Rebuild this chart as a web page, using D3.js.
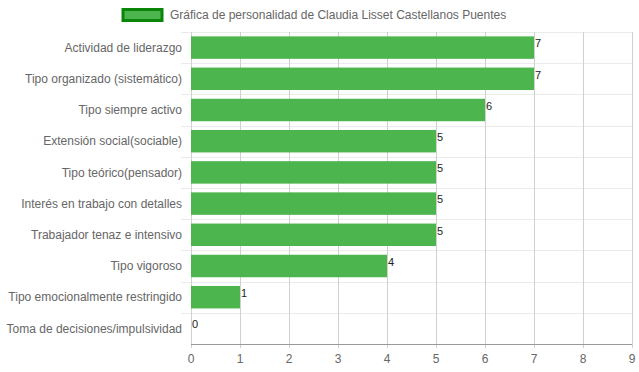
<!DOCTYPE html>
<html lang="es">
<head>
<meta charset="UTF-8">
<style>
  body { margin: 0; background: #fff; }
  svg text { font-family: "Liberation Sans", Arial, sans-serif; }
</style>
</head>
<body>
<svg width="639" height="372"></svg>
<script src="https://d3js.org/d3.v7.min.js"></script>
<script>

// data
var categories = [
  "Actividad de liderazgo",
  "Tipo organizado (sistemático)",
  "Tipo siempre activo",
  "Extensión social(sociable)",
  "Tipo teórico(pensador)",
  "Interés en trabajo con detalles",
  "Trabajador tenaz e intensivo",
  "Tipo vigoroso",
  "Tipo emocionalmente restringido",
  "Toma de decisiones/impulsividad"
];
var values = [7, 7, 6, 5, 5, 5, 5, 4, 1, 0];
var xTicks = [0, 1, 2, 3, 4, 5, 6, 7, 8, 9];
var seriesName = "Gráfica de personalidad de Claudia Lisset Castellanos Puentes";

var margin = {top: 32, right: 7, bottom: 28, left: 191},
    width = 639 - margin.left - margin.right,
    height = 372 - margin.top - margin.bottom;

var svg = d3.select("svg");
var g = svg.append("g")
    .attr("transform", "translate(" + margin.left + "," + margin.top + ")");

var x = d3.scaleLinear().domain([0, 9]).range([0, width]);
var y = d3.scaleBand().domain(categories).range([0, height]);

// horizontal grid lines (between categories)
g.selectAll(".hgrid")
    .data(categories)
  .enter().append("line")
    .attr("x1", -10).attr("x2", width)
    .attr("y1", function(d) { return Math.round(y(d)) + 0.5; })
    .attr("y2", function(d) { return Math.round(y(d)) + 0.5; })
    .attr("stroke", "#ebebeb");

// vertical grid lines
g.selectAll(".vgrid")
    .data(xTicks)
  .enter().append("line")
    .attr("x1", function(d) { return Math.round(x(d)) + 0.5; })
    .attr("x2", function(d) { return Math.round(x(d)) + 0.5; })
    .attr("y1", 0).attr("y2", height + 4)
    .attr("stroke", "#d0d0d0");

// bars
var barH = y.bandwidth() * 0.72;
g.selectAll(".bar")
    .data(values)
  .enter().append("rect")
    .attr("x", x(0))
    .attr("y", function(d, i) { return y(categories[i]) + (y.bandwidth() - barH) / 2; })
    .attr("width", function(d) { return x(d) - x(0); })
    .attr("height", barH)
    .attr("fill", "#4db54d");

// value labels
g.selectAll(".val")
    .data(values)
  .enter().append("text")
    .attr("x", function(d) { return x(d) + 1; })
    .attr("y", function(d, i) { return y(categories[i]) + y.bandwidth() / 2 - 4; })
    .attr("dy", "0.35em")
    .attr("font-size", 11)
    .attr("fill", "#222")
    .text(function(d) { return d; });

// x axis line
g.append("line")
    .attr("x1", 0).attr("x2", width)
    .attr("y1", height + 0.5).attr("y2", height + 0.5)
    .attr("stroke", "#999");

// x tick labels
g.selectAll(".xt")
    .data(xTicks)
  .enter().append("text")
    .attr("x", function(d) { return x(d); })
    .attr("y", height + 15)
    .attr("dy", "0.35em")
    .attr("text-anchor", "middle")
    .attr("font-size", 12)
    .attr("fill", "#666")
    .text(function(d) { return d; });

// category labels
g.selectAll(".yl")
    .data(categories)
  .enter().append("text")
    .attr("x", -9)
    .attr("y", function(d) { return y(d) + y.bandwidth() / 2; })
    .attr("dy", "0.35em")
    .attr("text-anchor", "end")
    .attr("font-size", 12)
    .attr("fill", "#666")
    .text(function(d) { return d; });

// legend
var legend = svg.append("g");
legend.append("rect")
    .attr("x", 123).attr("y", 9.5)
    .attr("width", 39).attr("height", 11)
    .attr("fill", "#4db54d")
    .attr("stroke", "#0a850a")
    .attr("stroke-width", 3);
legend.append("text")
    .attr("x", 170).attr("y", 15)
    .attr("dy", "0.35em")
    .attr("font-size", 12)
    .attr("fill", "#666")
    .text(seriesName);

</script>
</body>
</html>
